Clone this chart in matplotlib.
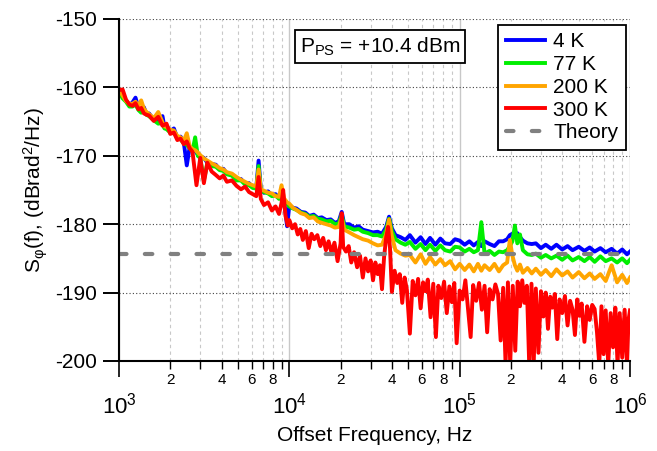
import numpy as np
import matplotlib
matplotlib.use('Agg')
import matplotlib.pyplot as plt
from matplotlib.ticker import LogLocator, FuncFormatter, LogFormatterMathtext, MultipleLocator

plt.rcParams['font.family'] = ['Liberation Sans', 'DejaVu Sans']
plt.rcParams['mathtext.fontset'] = 'custom'
plt.rcParams['mathtext.rm'] = 'Liberation Sans'
plt.rcParams['mathtext.it'] = 'Liberation Sans:italic'
plt.rcParams['mathtext.default'] = 'regular'
plt.rcParams['axes.unicode_minus'] = False

# offset frequencies (Hz) shared by the 4 K, 77 K and 200 K traces
freq = [1000, 1050, 1100, 1150, 1200, 1250, 1300, 1350, 1400, 1450,
        1500, 1600, 1700, 1800, 1850, 1900, 2000, 2100, 2200, 2300,
        2400, 2500, 2600, 2700, 2800, 2900, 3000, 3150, 3300, 3500,
        3700, 3900, 4100, 4300, 4600, 4900, 5200, 5500, 5800, 6100,
        6400, 6600, 6800, 7100, 7500, 7900, 8300, 8700, 9000, 9300,
        9700, 10000, 10500, 11000, 11700, 12400, 13100, 13900, 14700, 15500,
        16500, 17500, 18500, 19500, 20300, 21000, 22500, 24000, 25500, 27000,
        29000, 31000, 33000, 35000, 37000, 38500, 40000, 42000, 45000, 48000,
        51000, 55000, 59000, 63000, 67000, 72000, 77000, 82000, 88000, 94000,
        100000, 107000, 114000, 121000, 128000, 134000, 140000, 150000, 160000, 170000,
        180000, 190000, 197000, 204000, 211000, 218000, 226000, 235000, 250000, 265000,
        280000, 300000, 320000, 345000, 370000, 400000, 430000, 460000, 500000, 540000,
        580000, 620000, 670000, 720000, 780000, 840000, 900000, 960000, 1000000]

s_4k = [-160.4, -161.3, -161.9, -162.6, -162.2, -161.5, -163.0, -163.4, -162.9, -163.9,
        -163.8, -164.7, -164.9, -164.2, -165.9, -165.6, -166.4, -166.0, -167.4, -167.2,
        -168.0, -171.4, -168.7, -169.2, -169.3, -169.8, -170.1, -170.3, -171.0, -171.2,
        -171.3, -172.0, -171.9, -172.6, -172.7, -173.4, -173.4, -174.1, -174.0, -174.6,
        -174.6, -170.7, -174.9, -175.4, -175.2, -175.8, -175.6, -176.2, -175.9, -176.4,
        -180.3, -177.2, -177.6, -177.7, -178.2, -178.3, -178.8, -178.6, -179.1, -179.0,
        -179.4, -179.3, -179.8, -179.6, -178.2, -180.0, -180.0, -180.5, -180.3, -180.8,
        -181.0, -181.2, -181.1, -181.4, -180.4, -178.9, -180.6, -181.6, -181.9, -182.3,
        -181.6, -182.7, -181.9, -182.9, -182.0, -183.0, -182.1, -182.8, -182.9, -182.2,
        -182.4, -183.0, -182.5, -183.1, -182.6, -183.2, -182.5, -182.9, -183.2, -182.5,
        -182.5, -182.2, -181.6, -181.4, -181.8, -181.3, -181.9, -182.4, -182.8, -182.9,
        -182.8, -183.5, -183.0, -183.6, -183.0, -183.7, -183.2, -183.8, -183.3, -183.9,
        -183.4, -184.0, -183.5, -184.1, -183.6, -184.3, -183.7, -184.4, -184.0]

s_77k = [-160.6, -161.6, -162.1, -162.8, -162.8, -162.5, -163.3, -163.7, -163.5, -164.0,
         -164.2, -164.8, -165.3, -165.2, -166.0, -166.1, -166.6, -166.5, -167.5, -167.6,
         -168.2, -168.4, -168.9, -169.3, -167.3, -170.0, -170.3, -173.6, -171.1, -171.5,
         -171.6, -172.1, -172.2, -172.7, -172.9, -173.6, -173.6, -174.2, -174.3, -174.7,
         -174.8, -171.5, -175.1, -175.3, -175.5, -175.9, -175.8, -176.3, -176.1, -176.5,
         -177.0, -177.4, -177.7, -177.9, -178.3, -178.5, -178.9, -178.8, -179.2, -179.3,
         -179.6, -179.5, -180.0, -179.9, -178.6, -180.3, -180.5, -180.8, -180.7, -181.1,
         -181.3, -181.6, -181.6, -181.8, -180.8, -179.2, -181.0, -182.2, -182.7, -183.0,
         -182.6, -183.6, -182.9, -183.8, -183.0, -183.9, -183.1, -183.8, -184.0, -183.3,
         -183.4, -184.0, -183.6, -184.1, -183.8, -179.7, -184.3, -183.9, -184.5, -184.0,
         -184.1, -183.8, -183.2, -182.5, -180.2, -182.8, -181.5, -183.8, -184.4, -184.5,
         -184.3, -184.9, -184.5, -185.0, -184.6, -185.2, -184.6, -185.3, -184.8, -185.4,
         -184.8, -185.5, -184.7, -185.4, -185.0, -185.6, -185.0, -185.7, -185.2]

s_200k = [-160.3, -161.2, -162.0, -162.4, -162.4, -162.1, -162.7, -161.9, -163.1, -163.6,
          -163.9, -164.5, -163.6, -165.1, -165.7, -165.8, -166.2, -166.3, -167.1, -167.3,
          -167.8, -166.7, -168.6, -169.0, -169.2, -169.5, -169.9, -170.4, -170.7, -171.1,
          -171.4, -171.8, -172.0, -172.4, -172.6, -173.1, -173.5, -173.8, -174.1, -174.3,
          -174.5, -172.0, -174.9, -175.1, -175.4, -175.5, -175.9, -176.0, -174.3, -176.2,
          -176.8, -177.0, -177.6, -177.9, -178.4, -178.6, -179.1, -179.0, -179.6, -179.8,
          -180.0, -180.2, -180.5, -180.4, -179.0, -180.8, -181.2, -181.6, -181.9, -182.2,
          -182.4, -182.8, -183.1, -183.0, -181.5, -179.3, -181.8, -183.8, -184.3, -184.6,
          -184.5, -185.6, -184.4, -185.8, -184.8, -185.9, -185.1, -186.0, -185.4, -186.6,
          -185.8, -186.7, -185.9, -186.9, -185.8, -186.8, -186.0, -186.7, -185.8, -186.9,
          -186.0, -185.6, -182.3, -184.6, -186.0, -186.8, -185.9, -187.1, -186.4, -187.2,
          -186.5, -187.4, -186.7, -187.6, -186.6, -187.5, -186.9, -187.8, -187.0, -187.9,
          -187.2, -188.0, -187.3, -188.3, -186.0, -188.5, -187.4, -188.6, -187.8]

# the 300 K trace is much noisier, so it has its own denser frequency list
freq_300k = [1000, 1050, 1100, 1150, 1200, 1250, 1300, 1350, 1400, 1450,
             1500, 1600, 1700, 1800, 1900, 2000, 2100, 2200, 2300, 2400,
             2500, 2600, 2700, 2850, 3000, 3150, 3300, 3500, 3700, 3900,
             4100, 4300, 4600, 4900, 5200, 5500, 5800, 6100, 6400, 6600,
             6800, 7100, 7500, 7900, 8300, 8700, 9000, 9200, 9500, 9800,
             10000, 10400, 10800, 11200, 11600, 12000, 12500, 13000, 13500, 14000,
             14600, 15200, 15800, 16400, 17000, 17700, 18400, 19200, 20000, 20300,
             20700, 21500, 22300, 23100, 24000, 25000, 26000, 27000, 28000, 29000,
             30000, 31000, 32000, 33000, 34000, 35000, 36000, 37000, 38000, 39000,
             40000, 41500, 43000, 44500, 46000, 47500, 49000, 51000, 53000, 55000,
             57000, 59000, 61000, 63000, 65000, 67500, 70000, 72500, 75000, 78000,
             81000, 84000, 87000, 90000, 93000, 96000, 100000, 104000, 108000, 112000,
             116000, 120000, 125000, 130000, 135000, 140000, 145000, 150000, 156000, 162000,
             168000, 174000, 180000, 186000, 192000, 198000, 205000, 212000, 219000, 226000,
             233000, 240000, 248000, 256000, 264000, 272000, 280000, 290000, 300000, 310000,
             320000, 330000, 340000, 350000, 362000, 374000, 386000, 400000, 415000, 430000,
             445000, 460000, 475000, 490000, 505000, 520000, 540000, 560000, 580000, 600000,
             620000, 640000, 660000, 680000, 700000, 720000, 745000, 770000, 795000, 820000,
             845000, 870000, 900000, 930000, 960000, 980000, 1000000]

s_300k = [-160.4, -160.3, -161.8, -162.5, -162.7, -162.3, -163.2, -163.0, -163.8, -164.0,
          -164.1, -164.9, -164.3, -165.6, -165.3, -166.8, -166.6, -167.7, -167.5, -168.3,
          -167.9, -168.9, -169.4, -174.3, -170.3, -174.0, -171.0, -172.3, -172.8, -173.3,
          -172.9, -173.8, -173.6, -174.4, -174.9, -174.5, -175.3, -175.6, -175.9, -173.1,
          -176.3, -177.2, -176.8, -178.0, -177.4, -178.5, -176.9, -175.0, -178.8, -180.2,
          -179.4, -180.6, -180.0, -181.5, -180.7, -182.3, -181.0, -183.5, -181.4, -182.2,
          -181.6, -183.2, -182.0, -183.8, -182.5, -184.2, -182.7, -185.4, -182.8, -178.4,
          -183.3, -184.0, -183.2, -185.6, -184.1, -186.3, -184.6, -187.8, -185.0, -186.9,
          -185.3, -188.2, -185.6, -187.3, -186.0, -189.5, -184.8, -182.0, -180.4, -183.5,
          -189.9, -186.8, -188.6, -187.3, -191.5, -187.8, -189.6, -196.0, -188.3, -190.4,
          -188.0, -192.3, -188.5, -189.8, -188.1, -193.6, -188.7, -196.5, -189.0, -190.8,
          -188.4, -193.0, -189.1, -191.4, -188.6, -197.4, -189.7, -191.0, -188.2, -192.4,
          -196.5, -188.9, -191.2, -188.6, -192.5, -189.0, -195.8, -189.5, -191.0, -188.8,
          -190.2, -197.0, -189.3, -200.5, -188.5, -200.5, -189.0, -198.5, -188.4, -192.0,
          -188.2, -191.5, -189.0, -200.5, -188.7, -200.5, -189.4, -198.8, -189.8, -193.5,
          -190.0, -195.3, -190.6, -192.2, -190.2, -196.8, -191.0, -193.0, -190.5, -194.8,
          -191.2, -192.5, -196.2, -191.0, -193.4, -191.6, -197.2, -192.0, -194.0, -191.8,
          -192.4, -195.8, -200.5, -192.0, -199.0, -192.6, -200.5, -193.0, -198.0, -192.2,
          -200.5, -193.0, -199.5, -192.5, -200.5, -194.0, -192.6]

freq_theory = [1000, 1000000]
s_theory = [-184.4, -184.4]

fig = plt.figure(figsize=(6.57, 4.51), dpi=100)
ax = fig.add_axes([119 / 657, 1 - 361 / 451, 511 / 657, 342 / 451])

ax.plot(freq, s_4k, color='#0000ff', lw=2.8, label='4 K')
ax.plot(freq, s_77k, color='#00ee00', lw=2.8, label='77 K')
ax.plot(freq, s_200k, color='#ffa500', lw=2.8, label='200 K')
ax.plot(freq_300k, s_300k, color='#ff0000', lw=2.8, label='300 K')
ax.plot(freq_theory, s_theory, color='#808080', lw=3, dashes=(1.8, 4.4),
        dash_capstyle='round', label='Theory')

ax.set_xscale('log')
ax.set_xlim(1e3, 1e6)
ax.set_ylim(-200, -150)
ax.yaxis.set_major_locator(MultipleLocator(10))
ax.xaxis.set_major_locator(LogLocator(base=10))
ax.xaxis.set_minor_locator(LogLocator(base=10, subs=range(2, 10)))
ax.xaxis.set_major_formatter(LogFormatterMathtext())


def minor_label(x, pos):
    d = int(round(x / 10 ** np.floor(np.log10(x) + 1e-9)))
    return str(d) if d in (2, 4, 6, 8) else ''


ax.xaxis.set_minor_formatter(FuncFormatter(minor_label))

ax.set_axisbelow(True)
ax.grid(which='major', axis='y', ls=(0, (1, 2)), color='#444444', lw=0.8)
ax.grid(which='major', axis='x', ls='-', color='#c8c8c8', lw=1.0)
ax.grid(which='minor', axis='x', ls=(0, (3, 3)), color='#c8c8c8', lw=0.8)

for s in ['top', 'right']:
    ax.spines[s].set_visible(False)
for s in ['left', 'bottom']:
    ax.spines[s].set_linewidth(1.5)

ax.tick_params(axis='y', which='major', direction='out', length=11.5, width=1.4,
               labelsize=15, pad=4)
ax.tick_params(axis='x', which='major', direction='out', length=11.5, width=1.2,
               labelsize=16, pad=11)
ax.tick_params(axis='x', which='minor', direction='out', length=6, width=1.0,
               labelsize=11, pad=3)

ax.set_xlabel('Offset Frequency, Hz', fontsize=15, labelpad=6)
ax.set_ylabel('S$_{φ}$(f), (dBrad$^{2}$/Hz)', fontsize=15, labelpad=4)

ax.text(0.511, 0.92, 'P$_{PS}$ = +10.4 dBm', transform=ax.transAxes, fontsize=15,
        ha='center', va='center',
        bbox=dict(boxstyle='square,pad=0.25', fc='white', ec='black', lw=1.3))

leg = ax.legend(loc='upper right', bbox_to_anchor=(0.992, 0.982), borderaxespad=0,
                fontsize=15, handlelength=1.9, handletextpad=0.4, labelspacing=0.18,
                borderpad=0.35, fancybox=False, framealpha=1, edgecolor='black')
leg.get_frame().set_linewidth(1.3)

fig.savefig('out.png', dpi=100)
